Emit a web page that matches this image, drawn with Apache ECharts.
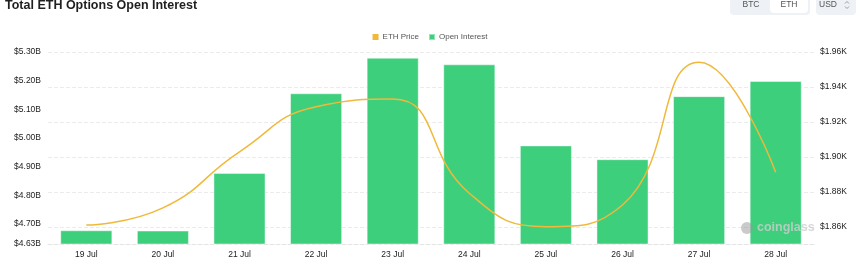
<!DOCTYPE html>
<html>
<head>
<meta charset="utf-8">
<script src="https://cdn.jsdelivr.net/npm/echarts@6/dist/echarts.min.js"></script>
<style>
html,body{margin:0;padding:0;background:#fff;}
#chart{width:860px;height:271px;}
</style>
</head>
<body>
<div id="chart"></div>
<script>
const categories = ['19 Jul','20 Jul','21 Jul','22 Jul','23 Jul','24 Jul','25 Jul','26 Jul','27 Jul','28 Jul'];
const openInterest = [4.678, 4.677, 4.878, 5.156, 5.280, 5.257, 4.974, 4.926, 5.146, 5.199];
const ethPrice = [1.8611, 1.8709, 1.9030, 1.9287, 1.9331, 1.8793, 1.8602, 1.8726, 1.9541, 1.8913];
const leftTicks = [4.63, 4.70, 4.80, 4.90, 5.00, 5.10, 5.20, 5.30];
const rightTicks = [1.86, 1.88, 1.90, 1.92, 1.94, 1.96];

const chart = echarts.init(document.getElementById('chart'));
const font = '"Liberation Sans", Arial, sans-serif';
chart.setOption({
  animation: false,
  textStyle: {fontFamily: font},
  title: {
    text: 'Total ETH Options Open Interest',
    left: 5, top: -1, padding: 0,
    textStyle: {fontSize: 12.5, fontWeight: 'bold', color: '#1f1f1f', fontFamily: font}
  },
  legend: {
    data: ['ETH Price', 'Open Interest'],
    top: 28, left: 'center',
    itemWidth: 6, itemHeight: 6, itemGap: 9,
    icon: 'rect',
    textStyle: {fontSize: 8, color: '#555', padding: [0, 0, 0, -1]}
  },
  grid: {left: 48, right: 46, top: 52, bottom: 27},
  xAxis: {
    type: 'category',
    data: categories,
    axisLine: {lineStyle: {color: '#e4e4e4', type: 'dashed'}},
    axisTick: {show: false},
    axisLabel: {fontSize: 8.5, color: '#222', margin: 6}
  },
  yAxis: [
    {
      type: 'value', min: 4.63, max: 5.30,
      axisLabel: {customValues: leftTicks, fontSize: 8.5, color: '#222', margin: 7,
        formatter: v => '$' + v.toFixed(2) + 'B'},
      axisTick: {show: false},
      axisLine: {show: false},
      splitLine: {show: false}
    },
    {
      type: 'value', min: 1.8503, max: 1.96,
      axisLabel: {customValues: rightTicks, fontSize: 8.5, color: '#222', margin: 6,
        formatter: v => '$' + v.toFixed(2) + 'K'},
      axisTick: {show: false, customValues: rightTicks},
      axisLine: {show: false},
      splitLine: {show: true, lineStyle: {color: '#ebebeb', type: 'dashed'}}
    }
  ],
  series: [
    {
      name: 'Open Interest', type: 'bar', yAxisIndex: 0,
      data: openInterest, barWidth: '68%',
      itemStyle: {color: '#3ecf7d', borderColor: 'rgba(255,255,255,0.45)', borderWidth: 1},
      z: 2
    },
    {
      name: 'ETH Price', type: 'line', yAxisIndex: 1,
      data: ethPrice, smooth: true, showSymbol: false, symbol: 'none',
      itemStyle: {color: '#f0b93b'},
      lineStyle: {color: '#f0b93b', width: 1.5},
      z: 3
    }
  ],
  graphic: [
    {type: 'rect', shape: {x: 730, y: -6, width: 80, height: 21, r: 4}, style: {fill: '#eef1f5'}},
    {type: 'rect', shape: {x: 770, y: -6, width: 38, height: 19, r: 4}, style: {fill: '#ffffff'}},
    {type: 'text', x: 751, y: 5, style: {text: 'BTC', fontSize: 8.5, fill: '#555', align: 'center', verticalAlign: 'middle', fontFamily: font}},
    {type: 'text', x: 789, y: 5, style: {text: 'ETH', fontSize: 8.5, fill: '#555', align: 'center', verticalAlign: 'middle', fontFamily: font}},
    {type: 'rect', shape: {x: 816, y: -6, width: 40, height: 21, r: 4}, style: {fill: '#eef1f5'}},
    {type: 'text', x: 828, y: 5, style: {text: 'USD', fontSize: 8.5, fill: '#555', align: 'center', verticalAlign: 'middle', fontFamily: font}},
    {type: 'polyline', shape: {points: [[845, 3.5], [847, 1.5], [849, 3.5]]}, style: {stroke: '#888', lineWidth: 0.8, fill: null}},
    {type: 'polyline', shape: {points: [[845, 6.5], [847, 8.5], [849, 6.5]]}, style: {stroke: '#888', lineWidth: 0.8, fill: null}},
    {type: 'circle', shape: {cx: 747, cy: 228, r: 6}, style: {fill: 'rgba(150,150,150,0.5)'}, z: 10},
    {type: 'text', x: 757, y: 228, z: 10, style: {text: 'coinglass', fontSize: 12.5, fontWeight: 'bold', fill: 'rgba(205,205,205,0.8)', verticalAlign: 'middle', fontFamily: font}}
  ]
});
</script>
</body>
</html>
